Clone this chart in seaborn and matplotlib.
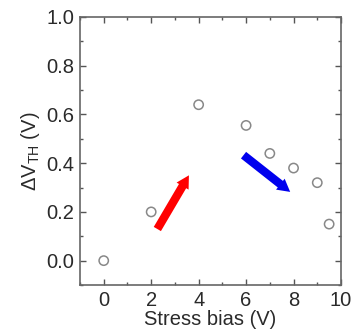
import matplotlib
matplotlib.use("Agg")
import matplotlib.pyplot as plt
import seaborn as sns
import pandas as pd
from matplotlib.ticker import MultipleLocator

stress_bias = [0, 2, 4, 6, 7, 8, 9, 9.5]
delta_vth = [0.0, 0.2, 0.64, 0.555, 0.44, 0.38, 0.32, 0.15]
xticks = [0, 2, 4, 6, 8, 10]
yticks = [0.0, 0.2, 0.4, 0.6, 0.8, 1.0]

df = pd.DataFrame({"x": stress_bias, "y": delta_vth})

sns.set_style("ticks")
plt.rcParams['font.family'] = ['Liberation Sans', 'DejaVu Sans']
plt.rcParams['mathtext.fontset'] = 'custom'
plt.rcParams['mathtext.rm'] = 'Liberation Sans'
plt.rcParams['mathtext.it'] = 'Liberation Sans'

fig = plt.figure(figsize=(3.54, 3.36), dpi=100)
ax = fig.add_axes([80/354, 1-285/336, (341-80)/354, (285-17)/336])

sns.scatterplot(data=df, x="x", y="y", ax=ax, marker="o", s=45,
                facecolor="none", edgecolor="#888888", linewidth=1.1)

ax.set_xlim(-1, 10)
ax.set_ylim(-0.1, 1.0)
ax.set_xticks(xticks)
ax.set_yticks(yticks)
ax.set_yticklabels([f"{v:.1f}" for v in yticks])
ax.xaxis.set_minor_locator(MultipleLocator(1))
ax.yaxis.set_minor_locator(MultipleLocator(0.1))
ax.tick_params(which="both", direction="in", top=True, right=True,
               colors="#555555", labelcolor="#2a2a2a", labelsize=14.5)
ax.tick_params(which="major", length=4, width=1, pad=4)
ax.tick_params(which="minor", length=2.5, width=1)
for s in ax.spines.values():
    s.set_color("#666666")
    s.set_linewidth(1.2)

ax.set_xlabel("Stress bias (V)", fontsize=14.5, color="#2a2a2a", labelpad=0)
ax.set_ylabel(r"$\Delta$V$_{\mathregular{TH}}$ (V)", fontsize=14.5, color="#2a2a2a", labelpad=3)

ax.annotate("", xy=(3.65, 0.36), xytext=(2.2, 0.12),
            arrowprops=dict(arrowstyle="simple,head_width=1.0,head_length=0.9,tail_width=0.6",
                            color="#ff0000", lw=0))
ax.annotate("", xy=(7.95, 0.275), xytext=(5.8, 0.44),
            arrowprops=dict(arrowstyle="simple,head_width=1.0,head_length=0.9,tail_width=0.6",
                            color="#0000ee", lw=0))

fig.savefig("out.png", dpi=100)
